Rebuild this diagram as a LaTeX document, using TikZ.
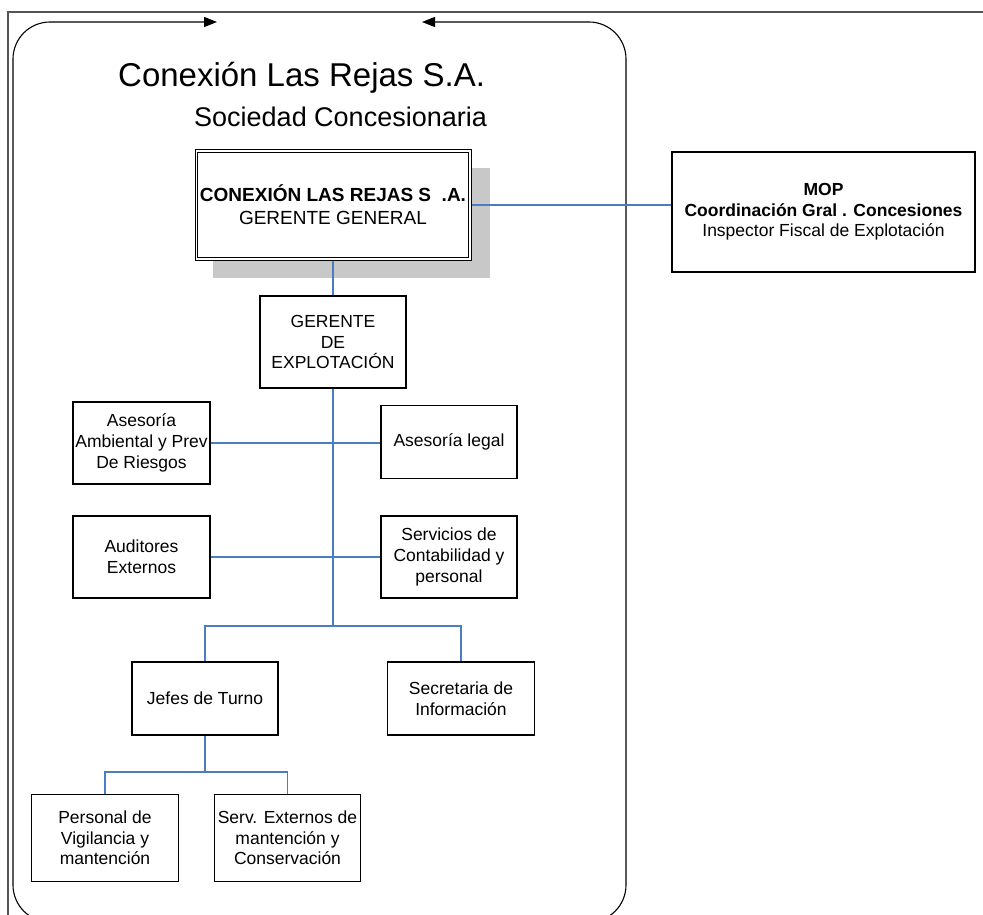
\documentclass[tikz,border=0pt]{standalone}
\usepackage{fontspec}
\setmainfont{Liberation Sans}
\usetikzlibrary{arrows.meta}
\definecolor{azul}{RGB}{74,126,193}
\definecolor{marco}{RGB}{85,85,85}
\definecolor{sombra}{RGB}{200,200,200}

\begin{document}
\begin{tikzpicture}[x=1pt,y=-1pt,
  caja/.style={draw=black,line width=1.2pt,fill=white,align=center,inner sep=0pt,
    font=\fontsize{17.5}{20.7}\selectfont},
  linea/.style={draw=azul,line width=1.3pt},
  punta/.tip={Triangle[length=13pt,width=10pt]}]

\useasboundingbox (0,0) rectangle (983,915);

% outer frame (only top and left edge visible)
\draw[marco, line width=1.6pt] (8,915) -- (8,12) -- (983,12);

% rounded frame with the two arrows on top
\draw[line width=1.1pt, rounded corners=37pt, punta-punta]
  (217,22) -- (13,22) -- (13,922) -- (626,922) -- (626,22) -- (422,22);

% titles
\node[anchor=base west, inner sep=0pt, font=\fontsize{33}{40}\selectfont] (titulo) at (118,87) {Conexión Las Rejas S.A.};
\node[anchor=base west, inner sep=0pt, font=\fontsize{27}{32}\selectfont] (subtitulo) at (194,127) {Sociedad Concesionaria};

% shadow behind the general manager box
\fill[sombra] (213,168) rectangle (490,278);

% boxes
\node[caja, line width=1pt, minimum width=276pt, minimum height=110pt,
  font=\fontsize{19}{23}\selectfont] (gerente) at (333,205) {\textbf{CONEXIÓN LAS REJAS S\ \ .A.}\\GERENTE GENERAL};
\draw[line width=1pt] ([shift={(3pt,-3pt)}]gerente.north west) rectangle ([shift={(-3pt,3pt)}]gerente.south east);
\node[caja, minimum width=303pt, minimum height=120pt] (mop) at (823.5,212) {\textbf{MOP}\\\textbf{Coordinación Gral . Concesiones}\\Inspector Fiscal de Explotación};
\node[caja, minimum width=146pt, minimum height=92pt] (gexp) at (333,342) {GERENTE\\DE\\EXPLOTACIÓN};
\node[caja, minimum width=137pt, minimum height=82pt] (ambiental) at (141.5,443) {Asesoría\\Ambiental y Prev\\De Riesgos};
\node[caja, minimum width=136pt, minimum height=73pt] (legal) at (449,442) {Asesoría legal};
\node[caja, minimum width=137pt, minimum height=82pt] (auditores) at (141.5,557) {Auditores\\Externos};
\node[caja, minimum width=136pt, minimum height=82pt] (servicios) at (449,557) {Servicios de\\Contabilidad y\\personal};
\node[caja, minimum width=146pt, minimum height=73pt] (jefes) at (205,698.5) {Jefes de Turno};
\node[caja, minimum width=147pt, minimum height=73pt] (secretaria) at (461,698.5) {Secretaria de\\Información};
\node[caja, minimum width=147pt, minimum height=87pt] (personal) at (105,838) {Personal de\\Vigilancia y\\mantención};
\node[caja, minimum width=146pt, minimum height=87pt] (externos) at (287.5,838) {Serv. Externos de\\mantención y\\Conservación};

% branch points
\coordinate (rama) at (333,626);
\coordinate (ramaturno) at (205,772);

% connectors
\draw[linea] (gerente.east) -- (gerente.east -| mop.west);
\draw[linea] (gerente.south) -- (gexp.north);
\draw[linea] (gexp.south) -- (rama);
\draw[linea] (ambiental.east) -- (ambiental.east -| legal.west);
\draw[linea] (auditores.east) -- (auditores.east -| servicios.west);
\draw[linea] (jefes.north) |- (rama) -| (secretaria.north);
\draw[linea] (jefes.south) -- (ramaturno);
\draw[linea] (personal.north) |- (ramaturno) -| (externos.north);

\end{tikzpicture}
\end{document}
